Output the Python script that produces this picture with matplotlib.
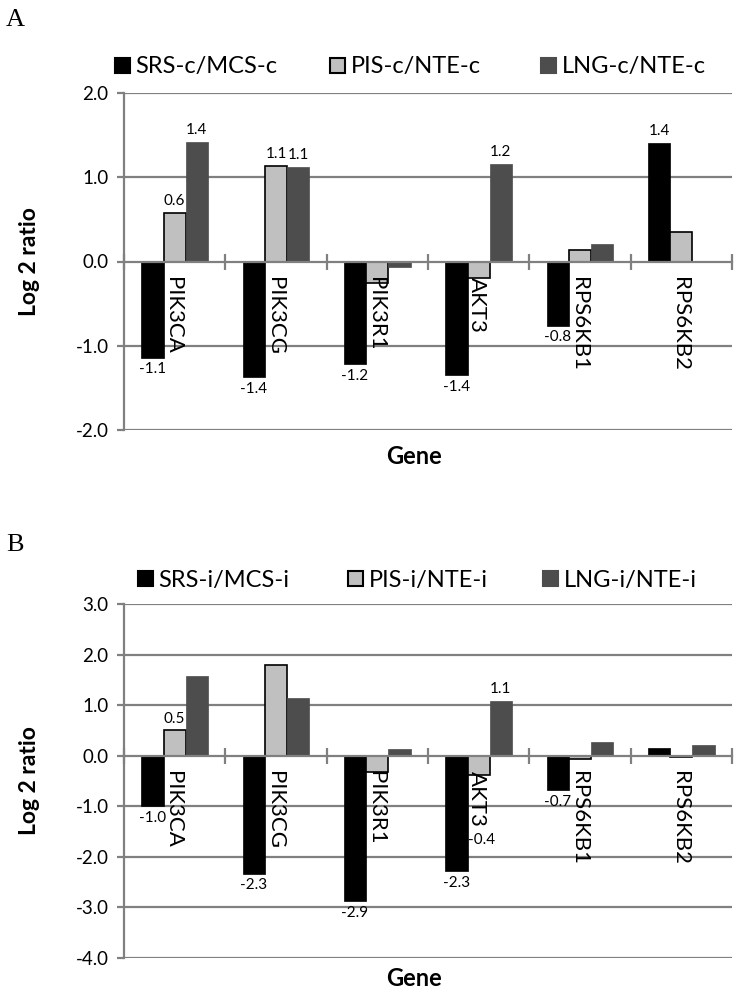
import matplotlib.pyplot as plt
from matplotlib.patches import Patch
import numpy as np

plt.rcParams["font.family"] = ["Lato", "DejaVu Sans"]

GENES = ["PIK3CA", "PIK3CG", "PIK3R1", "AKT3", "RPS6KB1", "RPS6KB2"]

# panel A (c)
A_SERIES = ["SRS-c/MCS-c", "PIS-c/NTE-c", "LNG-c/NTE-c"]
A_SRS = [-1.14, -1.37, -1.22, -1.35, -0.76, 1.41]
A_PIS = [0.58, 1.13, -0.25, -0.20, 0.14, 0.35]
A_LNG = [1.42, 1.12, -0.06, 1.16, 0.21, 0.0]
A_SRS_LBL = ["-1.1", "-1.4", "-1.2", "-1.4", "-0.8", "1.4"]
A_PIS_LBL = ["0.6", "1.1", None, None, None, None]
A_LNG_LBL = ["1.4", "1.1", None, "1.2", None, None]
A_YTICKS = [-2.0, -1.0, 0.0, 1.0, 2.0]

# panel B (i)
B_SERIES = ["SRS-i/MCS-i", "PIS-i/NTE-i", "LNG-i/NTE-i"]
B_SRS = [-1.0, -2.33, -2.87, -2.28, -0.68, 0.15]
B_PIS = [0.50, 1.79, -0.33, -0.38, -0.06, -0.03]
B_LNG = [1.58, 1.14, 0.13, 1.09, 0.27, 0.21]
B_SRS_LBL = ["-1.0", "-2.3", "-2.9", "-2.3", "-0.7", None]
B_PIS_LBL = ["0.5", None, None, "-0.4", None, None]
B_LNG_LBL = [None, None, None, "1.1", None, None]
B_YTICKS = [-4.0, -3.0, -2.0, -1.0, 0.0, 1.0, 2.0, 3.0]

COLORS = ["#000000", "#c0c0c0", "#4d4d4d"]
EDGES = ["#000000", "#000000", "#4d4d4d"]
GRID = "#808080"
W = 0.22
FIG_W, FIG_H = 738, 993


def px(x, y):
    """pixel position (from top-left) -> figure fraction"""
    return x / FIG_W, 1 - y / FIG_H


def draw_panel(fig, top, bottom, series_names, values, labels, yticks,
               legend_y, legend_x, gene_y, label_drop=None):
    left, right = 124, 732
    ax = fig.add_axes([left / FIG_W, 1 - bottom / FIG_H, (right - left) / FIG_W, (bottom - top) / FIG_H])
    x = np.arange(len(GENES))
    for k, (vals, lbls) in enumerate(zip(values, labels)):
        pos = x + (k - 1) * W
        ax.bar(pos, vals, width=W, color=COLORS[k], edgecolor=EDGES[k],
               linewidth=1.2 if k == 1 else 0.5, zorder=3)
        for j, (bx, v, t) in enumerate(zip(pos, vals, lbls)):
            if t is None:
                continue
            dx, dy = (label_drop or {}).get((k, j), (0, 0))
            if v >= 0:
                ax.annotate(t, (bx, v), xytext=(0, 3.5), textcoords="offset points",
                            ha="center", va="bottom", fontsize=11)
            else:
                ax.annotate(t, (bx, v), xytext=(dx, -3.5 - dy), textcoords="offset points",
                            ha="center", va="top", fontsize=11)

    ax.set_xlim(-0.5, len(GENES) - 0.5)
    ax.set_ylim(yticks[0], yticks[-1])
    ax.set_yticks(yticks)
    ax.set_yticklabels([f"{t:.1f}" for t in yticks], fontsize=13.5)
    for t in yticks:
        if t != 0:
            ax.axhline(t, color=GRID, linewidth=1.6, zorder=1)

    # category axis sits on zero, ticks at category boundaries
    ax.spines["bottom"].set_position(("data", 0))
    ax.spines["bottom"].set_color(GRID)
    ax.spines["bottom"].set_linewidth(1.6)
    ax.spines["bottom"].set_zorder(4)
    ax.set_xticks(np.arange(-0.5, len(GENES) + 0.5, 1.0))
    ax.set_xticklabels([])
    ax.tick_params(axis="x", direction="inout", length=11.5, width=1.6, color=GRID)
    for g, name in enumerate(GENES):
        ax.annotate(name, (g, 0), xytext=(-1, -11), textcoords="offset points",
                    rotation=270, ha="center", va="top", fontsize=16, zorder=5)

    for s in ("top", "right"):
        ax.spines[s].set_visible(False)
    ax.spines["left"].set_color(GRID)
    ax.spines["left"].set_linewidth(1.6)
    ax.tick_params(axis="y", colors=GRID, length=5, width=1.6, labelcolor="black", pad=6)

    ax.set_ylabel("Log 2 ratio", fontsize=16.5, fontweight="bold")
    ax.yaxis.set_label_coords((40 - left) / (right - left), 0.5)
    ax.set_xlabel("Gene", fontsize=17, fontweight="bold")
    ax.xaxis.label.set_va("center")
    ax.xaxis.set_label_coords((414 - left) / (right - left), (bottom - gene_y) / (bottom - top))

    for k in range(3):
        h = Patch(facecolor=COLORS[k], edgecolor="#000000" if k == 1 else COLORS[k], linewidth=1.5)
        fig.legend([h], [series_names[k]], loc="center left", bbox_to_anchor=px(legend_x[k], legend_y),
                   frameon=False, fontsize=17, handlelength=0.62, handleheight=0.62,
                   handletextpad=0.25, borderaxespad=0, borderpad=0)
    return ax


fig = plt.figure(figsize=(7.38, 9.93), dpi=100)
draw_panel(fig, 93, 430, A_SERIES, [A_SRS, A_PIS, A_LNG],
           [A_SRS_LBL, A_PIS_LBL, A_LNG_LBL], A_YTICKS, 67, [115, 330, 541], 457)
draw_panel(fig, 604, 958, B_SERIES, [B_SRS, B_PIS, B_LNG],
           [B_SRS_LBL, B_PIS_LBL, B_LNG_LBL], B_YTICKS, 580, [138, 348, 543], 978,
           label_drop={(1, 3): (2, 38)})

fig.text(*px(6, 20), "A", fontsize=19, family="Liberation Serif", va="center")
fig.text(*px(6, 545), "B", fontsize=19, family="Liberation Serif", va="center")

fig.savefig("out.png", dpi=100)
